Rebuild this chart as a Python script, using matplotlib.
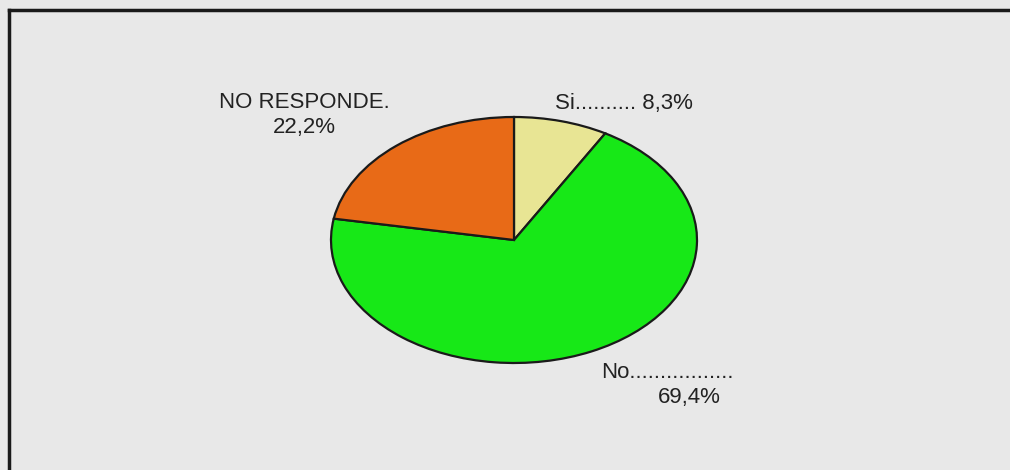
import matplotlib
matplotlib.use('Agg')
import matplotlib.pyplot as plt
from matplotlib.lines import Line2D

# data
labels = ['Si', 'No', 'NO RESPONDE.']
values = [8.3, 69.4, 22.2]
colors = ['#E8E594', '#17E817', '#E86A17']

W, H = 1010, 470
fig = plt.figure(figsize=(W / 100, H / 100), dpi=100)
fig.patch.set_facecolor('#E8E8E8')

# pie is an ellipse: center (514,240) px, radii 183 x 123 px
cx, cy, rx, ry = 514, 240, 183, 123
ax = fig.add_axes([0, 0, 1, 1])
ax.pie(values, colors=colors, startangle=90, counterclock=False,
       wedgeprops=dict(edgecolor='#1a1a1a', linewidth=1.6))
ax.set_aspect('auto')
ax.set_xlim(-cx / rx, (W - cx) / rx)
ax.set_ylim(-(H - cy) / ry, cy / ry)
ax.axis('off')

def px(x, y):
    return x / W, 1 - y / H

txt = dict(family='Liberation Sans', fontsize=16, color='#222222')
fig.text(*px(304, 102), 'NO RESPONDE.', ha='center', va='center', **txt)
fig.text(*px(304, 127), '22,2%', ha='center', va='center', **txt)
fig.text(*px(555, 104), 'Si' + '.' * 10 + ' 8,3%', ha='left', va='center', **txt)
fig.text(*px(601, 373), 'No' + '.' * 17, ha='left', va='center', **txt)
fig.text(*px(689, 398), '69,4%', ha='center', va='center', **txt)

# frame: only top and left edges are visible
fig.add_artist(Line2D([9 / W, 1], [1 - 10 / H, 1 - 10 / H], color='#1a1a1a', lw=2.5,
                      transform=fig.transFigure))
fig.add_artist(Line2D([9 / W, 9 / W], [0, 1 - 10 / H], color='#1a1a1a', lw=2.5,
                      transform=fig.transFigure))

fig.savefig('out.png', dpi=100, facecolor=fig.get_facecolor())
